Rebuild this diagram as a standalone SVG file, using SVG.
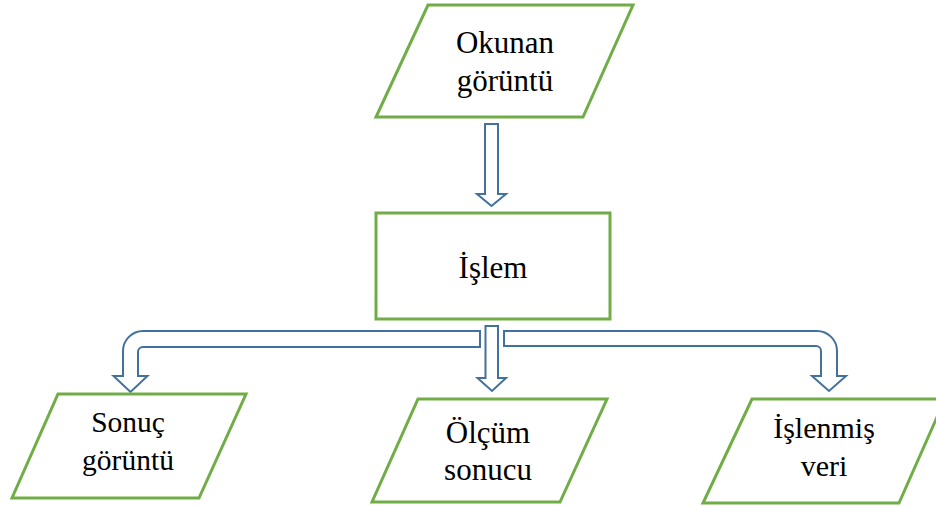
<svg xmlns="http://www.w3.org/2000/svg" width="936" height="506" viewBox="0 0 936 506">
<style>
.box{fill:#fff;stroke:#70AD47;stroke-width:3;stroke-linejoin:miter}
.arr{fill:#fff;stroke:#41719C;stroke-width:2;stroke-linejoin:miter}
.t{font-family:'Liberation Serif','DejaVu Serif',serif;fill:#000;text-anchor:middle}
</style>
<rect width="936" height="506" fill="#fff"/>
<g id="connectors">
<path class="arr" d="M485,124 H498 V194 H506 L491.5,206 L477,194 H485 Z"/>
<path class="arr" d="M480,331 H143 A20,20 0 0 0 123,351 V376 H113.5 L130.5,392 L147.5,376 H138 V352 A5,5 0 0 1 143,347 H480 Z"/>
<path class="arr" d="M485.5,326 H498 V378 H506 L492,391 L477.5,378 H485.5 Z"/>
<path class="arr" d="M504,331 H817 A20,20 0 0 1 837,351 V376 H846 L829,391 L812,376 H821 V351 A5,5 0 0 0 816,346 H504 Z"/>
</g>
<g id="okunan">
<polygon class="box" points="428,5 633,5 583,117 376,117"/>
<text class="t" x="505" y="53" font-size="31">Okunan</text>
<text class="t" x="505" y="91" font-size="31">görüntü</text>
</g>
<g id="islem">
<rect class="box" x="376" y="213" width="234" height="106"/>
<text class="t" x="493" y="278" font-size="31">İşlem</text>
</g>
<g id="sonuc">
<polygon class="box" points="58,394 246,394 199,498 12,498"/>
<text class="t" x="128" y="432" font-size="29.5">Sonuç</text>
<text class="t" x="128" y="470" font-size="29.5">görüntü</text>
</g>
<g id="olcum">
<polygon class="box" points="418,399 607,399 560,502 372,502"/>
<text class="t" x="488" y="443" font-size="31">Ölçüm</text>
<text class="t" x="488" y="480" font-size="31">sonucu</text>
</g>
<g id="islenmis">
<polygon class="box" points="752,399 945,399 899,503 703,503"/>
<text class="t" x="824" y="438" font-size="30">İşlenmiş</text>
<text class="t" x="824" y="476" font-size="30">veri</text>
</g>
</svg>
